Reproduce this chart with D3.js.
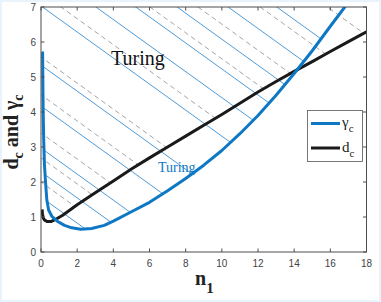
<!DOCTYPE html>
<html><head><meta charset="utf-8">
<script src="https://cdn.jsdelivr.net/npm/d3@7"></script>
<style>
html,body{margin:0;padding:0;background:#e9f3fb;}
svg{display:block;}
</style></head>
<body>
<svg id="chart" width="381" height="302"></svg>
<script>
// ---- data ----
const nGamma = [0.09,0.10,0.12,0.15,0.19,0.25,0.32,0.42,0.6,0.9,1.3,1.7,2.2,2.8,3.5,4,5,6,7,8,9,10,11,12,13,14,15,16,16.8];
const gammaC = [5.69,5.0,4.0,3.2,2.5,2.0,1.5,1.2,1.02,0.88,0.76,0.69,0.65,0.67,0.76,0.88,1.15,1.42,1.75,2.1,2.48,2.9,3.38,3.9,4.48,5.1,5.75,6.45,7.0];
const nD = [0.06,0.08,0.12,0.2,0.35,0.55,0.8,1.2,2,3,4,5,6,7,8,9,10,11,12,13,14,15,16,17,18];
const dC = [1.22,1.1,0.98,0.91,0.87,0.87,0.93,1.05,1.35,1.69,2.03,2.37,2.69,3.0,3.31,3.62,3.93,4.25,4.57,4.87,5.16,5.44,5.73,6.01,6.29];
const xTicks = [0,2,4,6,8,10,12,14,16,18];
const yTicks = [0,1,2,3,4,5,6,7];
// hatch lines: value at n1 = 0 and common slope (data units)
const hatchSlope = -0.372;
const blueHatch = [11.85,10.85,9.80,8.95,8.13,7.03,5.34,4.17,2.97,2.29,1.57];
const grayHatch = [12.89,11.51,10.23,9.24,7.41,5.57,4.49,3.4,2.69,2.0];
const legendLabels = [{t:"γ",s:"c",color:"#0f78c4"},{t:"d",s:"c",color:"#1a1a1a"}];

// ---- layout ----
const svg = d3.select("#chart");
svg.append("rect").attr("x",2).attr("y",2).attr("width",377).attr("height",298).attr("fill","#fff");
const x = d3.scaleLinear().domain([0,18]).range([41,366.5]);
const y = d3.scaleLinear().domain([0,7]).range([252,7]);
const axisColor = "#4d4d4d";
const blue = "#0f78c4";

const defs = svg.append("defs");
defs.append("clipPath").attr("id","plotClip").append("rect")
  .attr("x",x(0)).attr("y",y(7)).attr("width",x(18)-x(0)).attr("height",y(0)-y(7));
const gPts = nGamma.map((n,i)=>[n,gammaC[i]]);
const blueRegion = [[nGamma[0],7]].concat(gPts);
defs.append("clipPath").attr("id","blueClip").append("path")
  .attr("d", d3.line().x(d=>x(d[0])).y(d=>y(d[1]))(blueRegion)+"Z");
const dPts = nD.map((n,i)=>[n,dC[i]]);
const grayRegion = [[0,7],[0,dC[0]]].concat(dPts).concat([[18,7]]);
defs.append("clipPath").attr("id","grayClip").append("path")
  .attr("d", d3.line().x(d=>x(d[0])).y(d=>y(d[1]))(grayRegion)+"Z");

const lineGen = d3.line().x(d=>x(d[0])).y(d=>y(d[1]));
const hatchPts = b => [[-2, b + hatchSlope*(-2)],[40, b + hatchSlope*40]];

const plot = svg.append("g").attr("clip-path","url(#plotClip)");
plot.append("g").attr("clip-path","url(#grayClip)")
  .selectAll("path").data(grayHatch).join("path")
  .attr("d", b=>lineGen(hatchPts(b)))
  .attr("fill","none").attr("stroke","#9a9a9a").attr("stroke-width",0.9)
  .attr("stroke-dasharray","5,3.5");
plot.append("g").attr("clip-path","url(#blueClip)")
  .selectAll("path").data(blueHatch).join("path")
  .attr("d", b=>lineGen(hatchPts(b)))
  .attr("fill","none").attr("stroke","#3b8fd3").attr("stroke-width",0.9);

// axes box
const axes = svg.append("g");
axes.append("rect").attr("x",x(0)).attr("y",y(7)).attr("width",x(18)-x(0)).attr("height",y(0)-y(7))
  .attr("fill","none").attr("stroke",axisColor).attr("stroke-width",1);
const tl = 3.5;
axes.selectAll(".xtb").data(xTicks).join("line")
  .attr("x1",d=>x(d)).attr("x2",d=>x(d)).attr("y1",y(0)).attr("y2",y(0)-tl).attr("stroke",axisColor);
axes.selectAll(".xtt").data(xTicks).join("line")
  .attr("x1",d=>x(d)).attr("x2",d=>x(d)).attr("y1",y(7)).attr("y2",y(7)+tl).attr("stroke",axisColor);
axes.selectAll(".ytl").data(yTicks).join("line")
  .attr("y1",d=>y(d)).attr("y2",d=>y(d)).attr("x1",x(0)).attr("x2",x(0)+tl).attr("stroke",axisColor);
axes.selectAll(".ytr").data(yTicks).join("line")
  .attr("y1",d=>y(d)).attr("y2",d=>y(d)).attr("x1",x(18)).attr("x2",x(18)-tl).attr("stroke",axisColor);
axes.selectAll(".xl").data(xTicks).join("text")
  .attr("x",d=>x(d)).attr("y",267).attr("text-anchor","middle")
  .attr("font-family","Liberation Sans, Arial, sans-serif").attr("font-size",10).attr("fill","#444")
  .text(d=>d);
axes.selectAll(".yl").data(yTicks).join("text")
  .attr("x",36).attr("y",d=>y(d)).attr("dy","0.35em").attr("text-anchor","end")
  .attr("font-family","Liberation Sans, Arial, sans-serif").attr("font-size",10).attr("fill","#444")
  .text(d=>d);

// curves
plot.append("path").attr("d",lineGen(dPts)).attr("fill","none")
  .attr("stroke","#1a1a1a").attr("stroke-width",3).attr("stroke-linejoin","round");
plot.append("path").attr("d",lineGen(gPts)).attr("fill","none")
  .attr("stroke",blue).attr("stroke-width",3).attr("stroke-linejoin","round").attr("stroke-linecap","round");

// region labels
svg.append("text").attr("x",111).attr("y",65).attr("font-family","Liberation Serif, Times New Roman, serif")
  .attr("font-size",20).attr("fill","#111").text("Turing");
svg.append("text").attr("x",158).attr("y",172).attr("font-family","Liberation Serif, Times New Roman, serif")
  .attr("font-size",14).attr("fill",blue).text("Turing");

// axis labels
const xl = svg.append("text").attr("x",195).attr("y",285)
  .attr("font-family","Liberation Serif, Times New Roman, serif").attr("font-weight","bold").attr("font-size",20).attr("fill","#222");
xl.append("tspan").text("n");
xl.append("tspan").attr("dy",8).attr("font-size",15).text("1");
const yl = svg.append("text").attr("transform","translate(18,132) rotate(-90)").attr("text-anchor","middle")
  .attr("font-family","Liberation Serif, Times New Roman, serif").attr("font-weight","bold").attr("font-size",20).attr("fill","#222");
yl.append("tspan").text("d");
yl.append("tspan").attr("dy",5).attr("font-size",14).text("c");
yl.append("tspan").attr("dy",-5).text(" and γ");
yl.append("tspan").attr("dy",5).attr("font-size",14).text("c");

// legend
const lg = svg.append("g");
lg.append("rect").attr("x",307.5).attr("y",110.5).attr("width",55).attr("height",51)
  .attr("fill","#fff").attr("stroke","#555").attr("stroke-width",0.8);
lg.selectAll("line").data(legendLabels).join("line")
  .attr("x1",311).attr("x2",340).attr("y1",(d,i)=>123.5+i*24.5).attr("y2",(d,i)=>123.5+i*24.5)
  .attr("stroke",d=>d.color).attr("stroke-width",3);
const lt = lg.selectAll("text").data(legendLabels).join("text")
  .attr("x",342).attr("y",(d,i)=>127+i*24.5)
  .attr("font-family","Liberation Serif, Times New Roman, serif").attr("font-size",15).attr("fill","#222");
lt.append("tspan").text(d=>d.t);
lt.append("tspan").attr("dy",5).attr("font-size",11).text(d=>d.s);
</script>
</body></html>
